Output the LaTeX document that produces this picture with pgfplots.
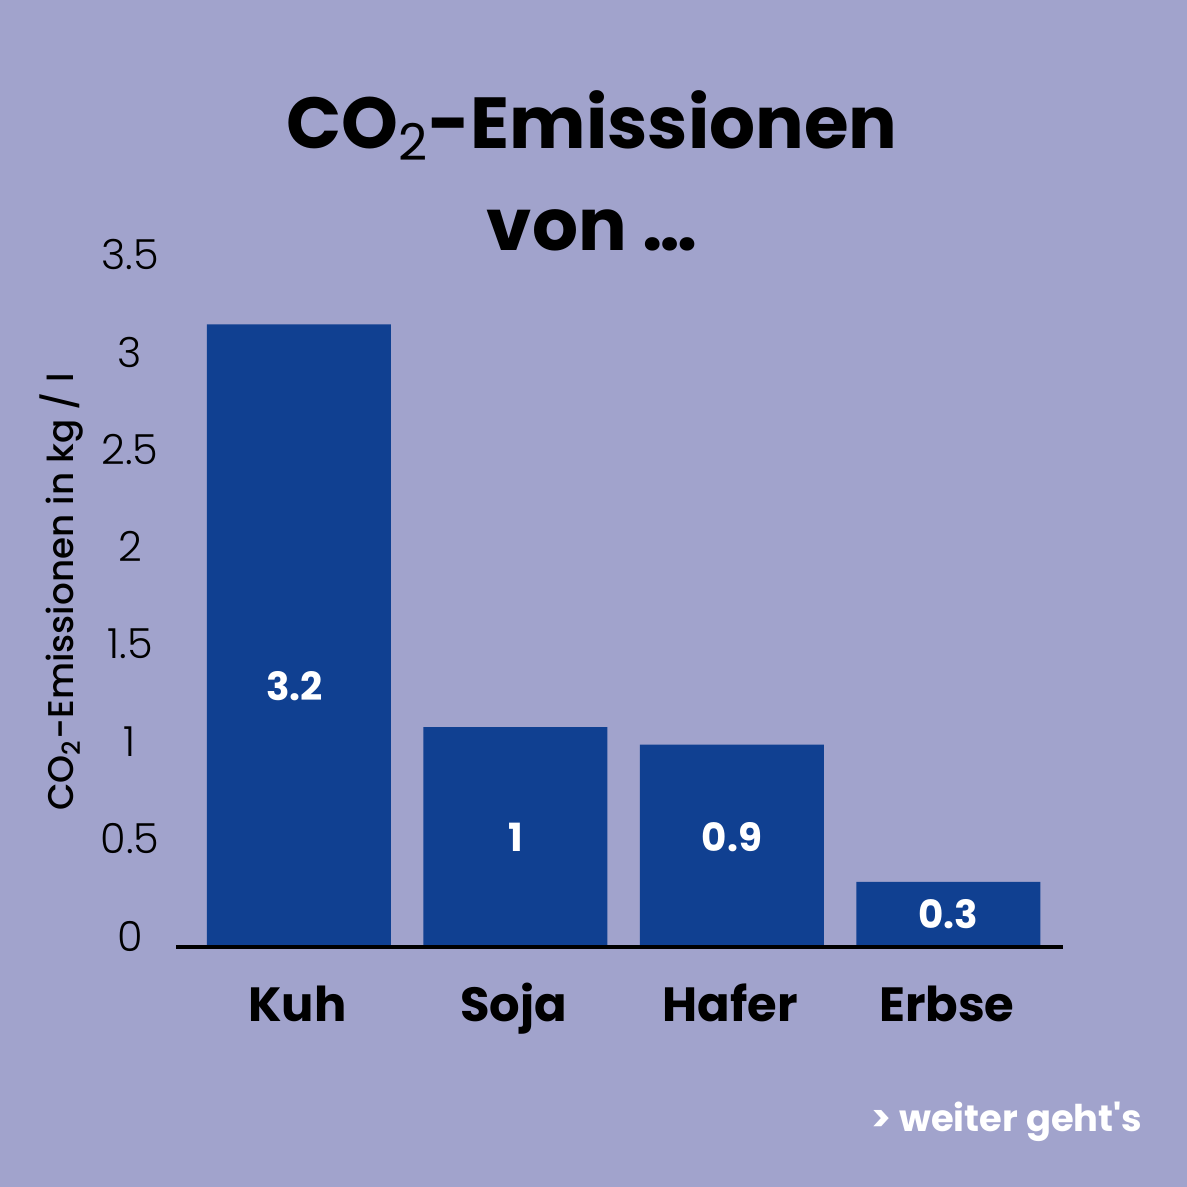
\documentclass[border=0pt]{standalone}
\usepackage{fontspec}
\setmainfont{Poppins}
\newfontfamily\plight{Poppins Light}
\newfontfamily\pmed{Poppins Medium}
\usepackage{pgfplots}
\pgfplotsset{compat=1.18}
\definecolor{bg}{RGB}{161,163,204}
\definecolor{barc}{RGB}{16,64,145}
\begin{document}
\begin{tikzpicture}[x=0.35pt,y=0.35pt]
\fill[bg] (-299,-240) rectangle (888,947);
\begin{axis}[
  at={(0,0)}, anchor=origin,
  x=75.775pt, y=68.11pt,
  xmin=-0.568, xmax=3.53, ymin=0, ymax=3.5,
  axis lines*=left,
  axis on top=true,
  y axis line style={draw=none},
  x axis line style={line width=1.4pt, black},
  xtick={0,1,2,3},
  xticklabels={Kuh,Soja,Hafer,Erbse},
  ytick={0,0.5,1,1.5,2,2.5,3,3.5},
  major tick length=0pt,
  /pgf/number format/assume math mode=true,
  xticklabel style={font=\bfseries\fontsize{16.8}{16.8}\selectfont, anchor=base, yshift=-26.2pt, xshift=-0.6pt},
  yticklabel style={font=\plight\fontsize{14.5}{14.5}\selectfont, anchor=center, xshift=-16.1pt, yshift=3.85pt},
  clip=false,
]
\addplot[ybar, bar width=64.4pt, bar shift=0pt, fill=barc, draw=none]
  coordinates {(0,3.2) (1,1.13) (2,1.04) (3,0.335)};
\addplot[draw=none, mark=none, nodes near coords, point meta=explicit symbolic,
  nodes near coords style={anchor=center, text=white, font=\bfseries\fontsize{13.6}{13.6}\selectfont}]
  coordinates {(-0.02,1.34)[3.2] (1,0.565)[1] (2,0.565)[0.9] (3,0.17)[0.3]};
\end{axis}
\node[anchor=base, font=\bfseries\fontsize{25.3}{25.3}\selectfont] at (293,799) {CO\textsubscript{\mdseries 2}-Emissionen};
\node[anchor=base, font=\bfseries\fontsize{25.3}{25.3}\selectfont] at (293,697) {von \ldots};
\node[rotate=90, font=\pmed\fontsize{12.5}{12.5}\selectfont] at (-237,355) {CO\textsubscript{2}-Emissionen in kg / l};
\node[text=white, font=\bfseries\fontsize{12.9}{12.9}\selectfont] at (708,-175) {> weiter geht\textquotesingle s};
\pgfresetboundingbox
\useasboundingbox (-299,-240) rectangle (888,947);
\end{tikzpicture}
\end{document}
